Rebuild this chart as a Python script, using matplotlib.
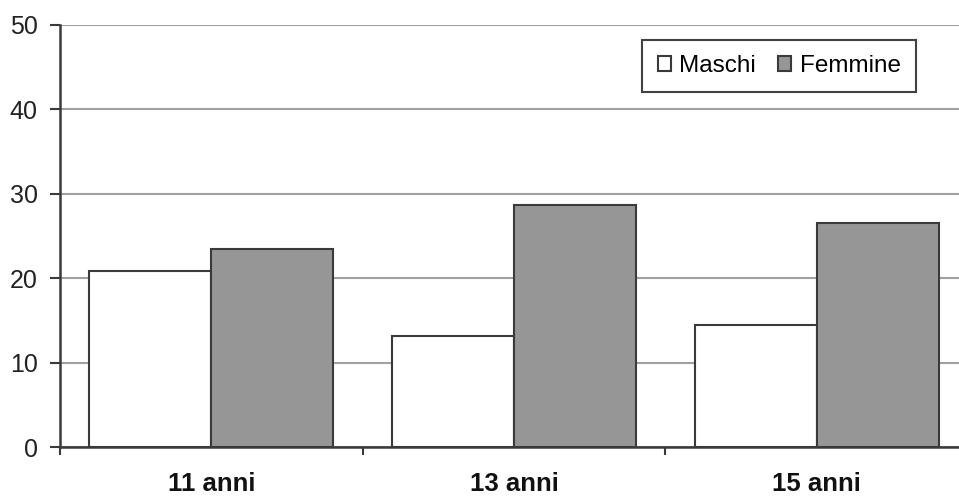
import matplotlib.pyplot as plt
import numpy as np

categories = ["11 anni", "13 anni", "15 anni"]
maschi = [20.9, 13.2, 14.5]
femmine = [23.5, 28.7, 26.5]

plt.rcParams['font.family'] = ['Liberation Sans', 'DejaVu Sans']

fig = plt.figure(figsize=(9.59, 4.98), dpi=100)
ax = fig.add_axes([60/959, 51/498, 908/959, 422/498])

x = np.arange(len(categories))
w = 0.403
edge = '#3a3a3a'
ax.bar(x - w/2, maschi, w, color='white', edgecolor=edge, linewidth=1.5, label='Maschi', zorder=3)
ax.bar(x + w/2, femmine, w, color='#969696', edgecolor=edge, linewidth=1.5, label='Femmine', zorder=3)

ax.set_xlim(-0.5, 2.5)
ax.set_ylim(0, 50)
ax.set_yticks(range(0, 51, 10))
ax.yaxis.grid(True, color='#a0a0a0', linewidth=1.5, zorder=0)
ax.set_axisbelow(True)

ax.set_xticks(x)
ax.set_xticklabels(categories, fontsize=18.5, fontweight='bold', color='#111111')
ax.set_xticks([-0.5, 0.5, 1.5, 2.5], minor=True)
ax.tick_params(axis='x', which='major', length=0, pad=18)
ax.tick_params(axis='x', which='minor', length=6, width=1.5, color=edge)
ax.tick_params(axis='y', length=7, width=1.5, color=edge, labelsize=18, pad=9, labelcolor='#222222')

for s in ['top', 'right']:
    ax.spines[s].set_visible(False)
for s in ['left', 'bottom']:
    ax.spines[s].set_color(edge)
    ax.spines[s].set_linewidth(1.8)

leg = ax.legend(ncol=2, loc='upper right', bbox_to_anchor=(916/959, 1 - 40/498),
                bbox_transform=fig.transFigure, fontsize=17.5, frameon=True, fancybox=False,
                shadow=False, borderpad=0.62, handlelength=0.55, handleheight=0.55,
                handletextpad=0.35, columnspacing=0.9, borderaxespad=0)
leg.get_frame().set_edgecolor('#111111')
leg.get_frame().set_linewidth(1.5)

fig.savefig('out.png', dpi=100)
